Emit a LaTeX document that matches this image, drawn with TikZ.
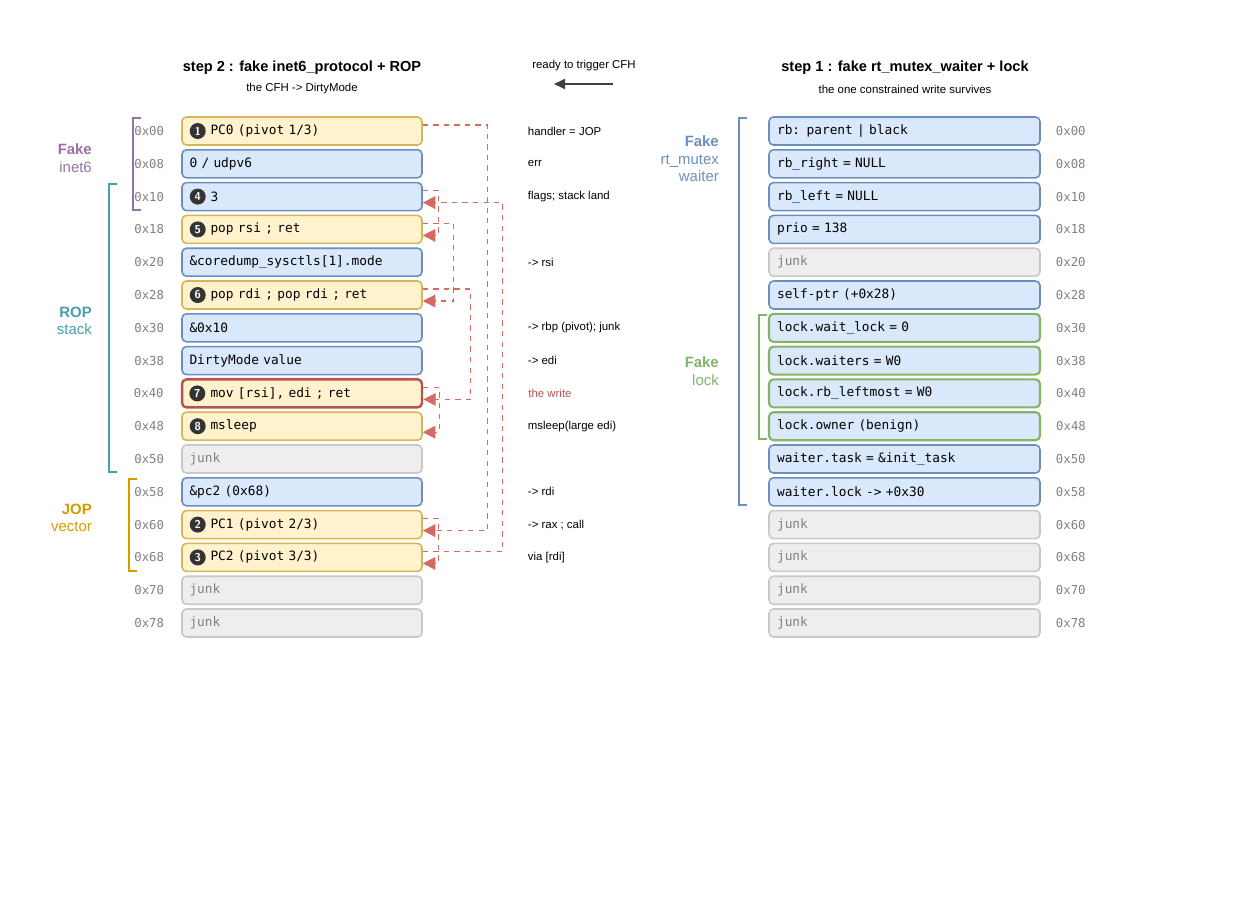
\documentclass[tikz,border=0pt]{standalone}
\usepackage{fontspec}
\setmainfont{Liberation Sans}
\setmonofont{DejaVu Sans Mono}
\usetikzlibrary{arrows.meta}
\definecolor{yfill}{HTML}{FFF2CC}\definecolor{yline}{HTML}{D6B656}
\definecolor{bfill}{HTML}{DAE8FC}\definecolor{bline}{HTML}{6C8EBF}
\definecolor{gfill}{HTML}{EEEEEE}\definecolor{gline}{HTML}{C8C8C8}
\definecolor{kline}{HTML}{82B366}\definecolor{wline}{HTML}{B85450}
\definecolor{arr}{HTML}{D46A62}\definecolor{purp}{HTML}{9673A6}
\definecolor{teal}{HTML}{4A9BAE}\definecolor{gold}{HTML}{D79B00}
\tikzset{
  cell/.style={draw, rounded corners=2.5pt, line width=0.9pt, minimum width=4.8cm, minimum height=0.56cm,
    text width=4.5cm, align=left, font=\ttfamily\fontsize{7.3}{9}\selectfont},
  ycell/.style={cell, fill=yfill, draw=yline},
  bcell/.style={cell, fill=bfill, draw=bline},
  gcell/.style={cell, fill=gfill, draw=gline, text=gray},
  kcell/.style={cell, fill=bfill, draw=kline, line width=1.2pt},
  wcell/.style={cell, fill=yfill, draw=wline, line width=1.4pt},
  rcell/.style={minimum width=5.42cm, text width=5.1cm},
  badge/.style={circle, fill=black!80, text=white, inner sep=0pt, minimum size=0.32cm, font=\sffamily\bfseries\fontsize{6.5}{7}\selectfont},
  off/.style={text=gray, font=\ttfamily\fontsize{7}{8}\selectfont},
  note/.style={anchor=west, font=\fontsize{6.5}{8}\selectfont},
  flow/.style={arr, dashed, line width=0.8pt, -{Triangle[length=0.25cm,width=0.25cm]}},
  brk/.style={line width=1.4pt},
  grp/.style={align=right, anchor=east, font=\fontsize{8.5}{10}\selectfont},
}
\newcommand\pad{\hspace{0.42cm}}
\begin{document}
\begin{tikzpicture}[x=0.02cm, y=-0.02cm]
\useasboundingbox (0,0) rectangle (1240,900);
% titles
\node[font=\bfseries\fontsize{8.3}{10}\selectfont] (t2) at (302,68) {step 2 : fake inet6\_protocol + ROP};
\node[font=\fontsize{6.5}{8}\selectfont] (s2) at (302,89) {the CFH -> DirtyMode};
\node[font=\bfseries\fontsize{8.3}{10}\selectfont] (t1) at (905,68) {step 1 : fake rt\_mutex\_waiter + lock};
\node[font=\fontsize{6.5}{8}\selectfont] (s1) at (905,89) {the one constrained write survives};
\node[font=\fontsize{6.5}{8}\selectfont] (rdy) at (584,66) {ready to trigger CFH};
\coordinate (ra) at (613,84); \coordinate (rb) at (554,84);
\draw[black!75, line width=1pt, -{Triangle[length=0.22cm,width=0.2cm]}] (ra) -- (rb);
% step 2 rows
\node[ycell] (L0) at (302,131) {\pad PC0 (pivot 1/3)};
\node[bcell] (L1) at (302,163.8) {0 / udpv6};
\node[bcell] (L2) at (302,196.6) {\pad 3};
\node[ycell] (L3) at (302,229.4) {\pad pop rsi ; ret};
\node[bcell] (L4) at (302,262.2) {\&coredump\_sysctls[1].mode};
\node[ycell] (L5) at (302,295) {\pad pop rdi ; pop rdi ; ret};
\node[bcell] (L6) at (302,327.8) {\&0x10};
\node[bcell] (L7) at (302,360.6) {DirtyMode value};
\node[wcell] (L8) at (302,393.4) {\pad mov [rsi], edi ; ret};
\node[ycell] (L9) at (302,426.2) {\pad msleep};
\node[gcell] (L10) at (302,459) {junk};
\node[bcell] (L11) at (302,491.8) {\&pc2 (0x68)};
\node[ycell] (L12) at (302,524.6) {\pad PC1 (pivot 2/3)};
\node[ycell] (L13) at (302,557.4) {\pad PC2 (pivot 3/3)};
\node[gcell] (L14) at (302,590.2) {junk};
\node[gcell] (L15) at (302,623) {junk};
\foreach \n/\b in {0/1, 2/4, 3/5, 5/6, 8/7, 9/8, 12/2, 13/3}
  \node[badge] at ([xshift=0.33cm]L\n.west) {\b};
% step 1 rows
\node[bcell, rcell] (R0) at (904.5,131) {rb: parent | black};
\node[bcell, rcell] (R1) at (904.5,163.8) {rb\_right = NULL};
\node[bcell, rcell] (R2) at (904.5,196.6) {rb\_left = NULL};
\node[bcell, rcell] (R3) at (904.5,229.4) {prio = 138};
\node[gcell, rcell] (R4) at (904.5,262.2) {junk};
\node[bcell, rcell] (R5) at (904.5,295) {self-ptr (+0x28)};
\node[kcell, rcell] (R6) at (904.5,327.8) {lock.wait\_lock = 0};
\node[kcell, rcell] (R7) at (904.5,360.6) {lock.waiters = W0};
\node[kcell, rcell] (R8) at (904.5,393.4) {lock.rb\_leftmost = W0};
\node[kcell, rcell] (R9) at (904.5,426.2) {lock.owner (benign)};
\node[bcell, rcell] (R10) at (904.5,459) {waiter.task = \&init\_task};
\node[bcell, rcell] (R11) at (904.5,491.8) {waiter.lock -> +0x30};
\foreach \n in {12,...,15}
  \node[gcell, rcell] (R\n) at (904.5,131+32.8*\n) {junk};
% offsets
\foreach \o [count=\i from 0] in {00,08,10,18,20,28,30,38,40,48,50,58,60,68,70,78} {
  \node[off, anchor=east] at ([xshift=-0.22cm]L\i.west) {0x\o};
  \node[off, anchor=west] at ([xshift=0.18cm]R\i.east) {0x\o};
}
% notes
\foreach \n/\t in {0/handler = JOP, 1/err, 2/flags; stack land, 4/-> rsi, 6/-> rbp (pivot); junk,
    7/-> edi, 9/msleep(large edi), 11/-> rdi, 12/-> rax ; call, 13/via [rdi]}
  \node[note] at ([xshift=1.98cm]L\n.east) {\t};
\node[note, text=wline] at ([xshift=1.98cm]L8.east) {the write};
% chain
\draw[flow] ([yshift=0.12cm]L0.east) -- ++(65,0) |- ([yshift=-0.12cm]L12.east);
\draw[flow] ([yshift=0.12cm]L12.east) -- ++(16,0) |- ([yshift=-0.12cm]L13.east);
\draw[flow] ([yshift=0.12cm]L13.east) -- ++(80,0) |- ([yshift=-0.12cm]L2.east);
\draw[flow] ([yshift=0.12cm]L2.east) -- ++(16,0) |- ([yshift=-0.12cm]L3.east);
\draw[flow] ([yshift=0.12cm]L3.east) -- ++(31,0) |- ([yshift=-0.12cm]L5.east);
\draw[flow] ([yshift=0.12cm]L5.east) -- ++(48,0) |- ([yshift=-0.12cm]L8.east);
\draw[flow] ([yshift=0.12cm]L8.east) -- ++(16,0) |- ([yshift=-0.12cm]L9.east);
% brackets
\draw[brk, purp] (141,118) -- (133,118) -- (133,210) -- (141,210);
\draw[brk, teal] (117,184) -- (109,184) -- (109,472) -- (117,472);
\draw[brk, gold] (137,479) -- (129,479) -- (129,571) -- (137,571);
\draw[brk, bline] (747,118) -- (739,118) -- (739,505) -- (747,505);
\draw[brk, kline] (767,315) -- (759,315) -- (759,439) -- (767,439);
\node[grp, text=purp] (gi) at (98,158) {\textbf{Fake}\\inet6};
\node[grp, text=teal] (gr) at (98,321) {\textbf{ROP}\\stack};
\node[grp, text=gold] (gj) at (98,518) {\textbf{JOP}\\vector};
\node[grp, text=bline] (gw) at (725,159) {\textbf{Fake}\\rt\_mutex\\waiter};
\node[grp, text=kline] (gl) at (725,371) {\textbf{Fake}\\lock};
\end{tikzpicture}
\end{document}
